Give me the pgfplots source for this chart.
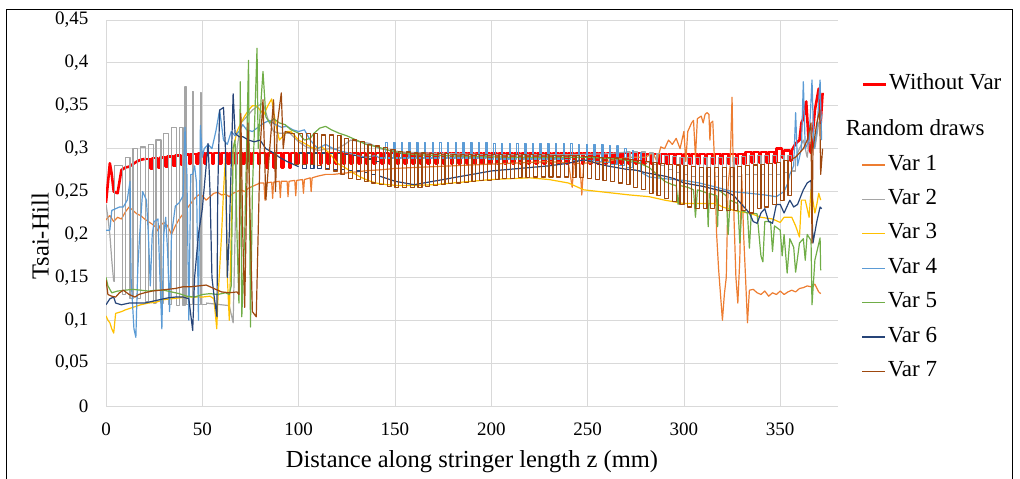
\documentclass[border=0pt]{standalone}
\usepackage{pgfplots}
\pgfplotsset{compat=1.18}
\usepackage{fontspec}
\setmainfont{Liberation Serif}
\definecolor{cRed}{HTML}{FF0000}
\definecolor{cOrange}{HTML}{ED7D31}
\definecolor{cGray}{HTML}{A5A5A5}
\definecolor{cGold}{HTML}{FFC000}
\definecolor{cBlue}{HTML}{5B9BD5}
\definecolor{cGreen}{HTML}{70AD47}
\definecolor{cNavy}{HTML}{264478}
\definecolor{cBrown}{HTML}{9E480E}
\definecolor{gridc}{HTML}{D9D9D9}
\pgfplotsset{
  v/.style={line width=1.2pt, mark=none, line join=round},
  frame/.style={at={(106pt,73pt)}, anchor=south west,
    scale only axis, width=732pt, height=386pt,
    xmin=0, xmax=380, ymin=0, ymax=0.45},
  leg/.style={legend style={anchor=north west, draw=none, fill=none, inner sep=0pt,
    font=\fontsize{23}{23}\selectfont, row sep=10.4pt,
    nodes={inner sep=2pt, text height=15pt, text depth=5pt}},
    legend cell align=left,
    legend image code/.code={\draw[##1] (0pt,0pt) -- (23pt,0pt);}},
}
\begin{document}
\begin{tikzpicture}
\useasboundingbox (0pt,0pt) rectangle (1020pt,479pt);
\draw[line width=1pt] (6.7pt,-5pt) -- (6.7pt,469pt) -- (1012.5pt,469pt) -- (1012.5pt,-5pt);
% ============ axis 1: frame, grid, labels, Without Var ============
\begin{axis}[frame, leg,
  xtick={0,50,100,150,200,250,300,350},
  ytick={0,0.05,0.1,0.15,0.2,0.25,0.3,0.35,0.4,0.45},
  axis lines*=left,
  axis line style={draw=gridc, line width=0.8pt},
  grid=major, major grid style={draw=gridc, line width=0.8pt},
  tick style={draw=none},
  /pgf/number format/assume math mode=true,
  /pgf/number format/use comma,
  y tick label style={/pgf/number format/fixed, /pgf/number format/precision=2, xshift=-14pt},
  x tick label style={yshift=-13pt},
  ticklabel style={font=\fontsize{19}{19}\selectfont},
  xlabel={Distance along stringer length z (mm)},
  ylabel={Tsai-Hill},
  xlabel style={font=\fontsize{24.5}{24.5}\selectfont, at={(axis description cs:0.5,-0.145)}, anchor=center},
  ylabel style={font=\fontsize{24.5}{24.5}\selectfont, at={(axis description cs:-0.09,0.44)}, anchor=center},
  legend style={at={(axis description cs:1.032,0.865)}},
]
\addplot[v, cRed, line width=2.6pt] coordinates {(0,.237)(2,.283)(3,.27)(4,.25)(6,.248)(8,.275)(10,.278)(12,.279)(14,.282)(16,.285)(18,.287)(20,.288)};
\addlegendentry{Without Var}
\addplot[v, cRed, line width=2.6pt, const plot, forget plot] coordinates {
(20,.288)(23,.277)(24,.289)(27,.278)(28,.29)(31,.279)(32,.291)(35,.28)(36,.292)(39,.281)(40,.293)(43,.282)(44,.294)(47,.283)
(48,.295)(51,.283)(52,.295)(55,.283)(56,.295)(59,.283)(60,.295)(63,.283)(64,.295)(67,.283)(68,.295)(71,.283)(72,.295)(75,.283)(76,.295)(79,.283)(80,.295)(83,.278)(84,.295)(87,.278)(88,.295)(91,.278)(92,.295)(95,.278)(96,.295)(99,.283)
(100,.295)(103,.283)(104,.295)(107,.283)(108,.295)(111,.283)(112,.295)(115,.283)(116,.295)(119,.283)(120,.295)(123,.283)(124,.295)(127,.283)(128,.295)(131,.283)(132,.295)(135,.283)(136,.295)(139,.283)(140,.295)(143,.283)(144,.295)(147,.283)(148,.295)(151,.283)(152,.295)(155,.283)(156,.295)(159,.283)(160,.295)(163,.283)(164,.295)(167,.283)(168,.295)(171,.283)(172,.295)(175,.283)(176,.295)(179,.283)(180,.295)(183,.283)(184,.295)(187,.283)(188,.295)(191,.283)(192,.295)(195,.283)(196,.295)(199,.283)
(200,.295)(203,.283)(204,.295)(207,.283)(208,.295)(211,.283)(212,.295)(215,.283)(216,.295)(219,.283)(220,.295)(223,.283)(224,.295)(227,.283)(228,.295)(231,.283)(232,.295)(235,.283)(236,.295)(239,.283)(240,.295)(243,.283)(244,.295)(247,.283)(248,.295)(251,.283)(252,.295)(255,.283)(256,.295)(259,.283)(260,.295)(263,.283)(264,.295)(267,.283)(268,.295)(271,.283)(272,.295)(275,.283)(276,.295)(279,.283)
(280,.294)(283,.282)(284,.294)(287,.282)(288,.294)(291,.282)(292,.294)(295,.282)(296,.294)(299,.282)(300,.294)(303,.282)(304,.294)(307,.282)(308,.294)(311,.282)(312,.294)(315,.282)(316,.294)(319,.282)(320,.294)(323,.282)(324,.294)(327,.282)(328,.294)(331,.282)(332,.296)(335,.284)(336,.296)(339,.284)(340,.296)(343,.284)(344,.296)(347,.284)(348,.3)(351,.29)(352,.298)(355,.286)(356,.298)};
\addplot[v, cRed, line width=2.6pt, forget plot] coordinates {(356,.298)(358,.306)(360,.31)(361,.33)(362,.335)(363.5,.355)(365,.3)(366,.295)(368,.345)(370,.37)(371,.33)(372,.365)};
\end{axis}
% ============ axis 2: random draws, on top ============
\begin{axis}[frame, leg, hide axis,
  legend style={at={(axis description cs:1.032,0.745)}},
]
\addlegendimage{empty legend}
\addlegendentry{\hspace*{-42pt}Random draws}
% ---------------- Var 1 ----------------
\addplot[v, cOrange] coordinates {
(0,.217)(2,.222)(4,.215)(6,.22)(8,.218)(10,.226)(12,.232)(14,.228)(16,.224)(18,.222)(20,.218)(22,.215)(24,.212)(26,.208)(27,.204)(28,.21)(30,.214)(32,.21)(34,.2)(36,.21)(38,.218)(40,.224)(42,.23)(44,.236)(46,.242)(48,.246)(50,.245)(52,.24)(54,.244)
(56,.248)(58,.249)(60,.246)(62,.247)(64,.244)(66,.248)(68,.25)(70,.252)(72,.25)(74,.254)(76,.256)(78,.258)
(80,.26)(82,.26)(82.5,.24)(83,.26)(86,.261)(86.5,.242)(87,.261)(90,.262)(90.5,.243)(91,.262)(94,.262)(94.5,.244)(95,.262)(98,.263)(98.5,.245)(99,.263)(102,.264)(102.5,.248)(103,.264)(106,.266)(106.5,.25)(107,.266)(110,.268)
(114,.27)(118,.27)(122,.271)(126,.272)(130,.273)(134,.274)(140,.275)(146,.276)(150,.277)(160,.278)(170,.279)(180,.28)(190,.281)(200,.282)(210,.283)(220,.284)(230,.285)(236,.284)(240,.283)(241,.27)(242,.255)(243,.283)(246,.283)(247,.246)(248,.283)(254,.284)(260,.285)(266,.288)(272,.29)(276,.29)(280,.29)
(284,.295)(286,.285)(288,.302)(290,.3)(292,.31)(294,.305)(296,.312)(298,.3)(300,.32)(301,.285)(302,.32)(304,.33)(305,.333)(306,.29)(307,.335)(309,.338)(310,.33)(311,.34)(312,.342)(313,.34)(313.5,.31)(314,.33)(315,.332)(316,.28)(317,.2)(318,.16)(320,.1)(321,.13)(322,.15)(323,.26)(324,.28)(325,.36)(326,.22)(327,.15)(328,.12)(329,.17)(330,.27)(331,.2)(332,.15)(333,.097)(334,.135)
(336,.136)(338,.132)(340,.13)(342,.134)(344,.128)(346,.132)(348,.13)(350,.134)(352,.13)(354,.133)(356,.135)(358,.133)(360,.137)(362,.138)(364,.14)(366,.139)(368,.142)(370,.133)(371,.131)};
\addlegendentry{Var 1}
% ---------------- Var 2 ----------------
\addplot[v, cGray] coordinates {(0,.235)(1,.22)(2,.2)(3,.17)(4,.145)};
\addlegendentry{Var 2}
\addplot[v, cGray, const plot, forget plot] coordinates {
(4,.145)(4.5,.28)(8.5,.13)(10,.29)(12.5,.125)(14,.3)(16.5,.125)(18,.302)(20.5,.122)(22,.305)(24.5,.12)(26,.31)(28.5,.12)(30,.318)(32.5,.118)(34,.325)(36.5,.117)(38,.325)(40,.117)(41,.372)(41.6,.118)(45,.367)(45.6,.118)(49,.365)(49.6,.118)(52,.12)};
\addplot[v, cGray, forget plot] coordinates {
(52,.12)(56,.119)(60,.118)(64,.117)(66,.097)(67,.2)(68,.3)(70,.33)(73,.337)(76,.345)(79,.35)(81.5,.353)(84,.335)(87,.32)(90,.318)(95.5,.318)(100,.308)(104,.302)(110,.298)(116,.3)(120,.3)(124,.305)(127,.31)(132,.308)(137,.306)(142,.3)(147,.298)(155,.296)(165,.295)(180,.294)(200,.293)(220,.293)(240,.293)(260,.294)(270,.296)};
\addplot[v, cGray, const plot, forget plot] coordinates {
(270,.296)(272,.284)(274,.296)(276,.284)(278,.296)(280,.284)(282,.295)(284,.282)(286,.294)(288,.28)(290,.292)(292,.276)(294,.291)(296,.272)(298,.29)(300,.27)(302,.29)(304,.268)(306,.29)(308,.268)(310,.29)(312,.268)(314,.29)(316,.268)(318,.29)(320,.268)(322,.29)(324,.268)(326,.29)(328,.268)(330,.291)(332,.27)(334,.292)(336,.27)(338,.292)(340,.27)(342,.292)(344,.27)(346,.292)(348,.27)(350,.292)(352,.272)(354,.292)(356,.274)(358,.29)};
\addplot[v, cGray, forget plot] coordinates {(358,.29)(360,.3)(362,.31)(364,.29)(366,.325)(368,.3)(370,.33)(372,.34)};
% ---------------- Var 3 ----------------
\addplot[v, cGold] coordinates {
(0,.105)(1,.1)(2,.097)(3,.09)(4,.085)(5,.108)(8,.11)(10,.112)(14,.115)(18,.118)(22,.12)(26,.121)(30,.124)(34,.125)(38,.126)(42,.127)(46,.127)(50,.127)(54,.128)(56,.125)(57.5,.09)(58,.12)(60,.2)(61,.25)(62,.29)(63,.15)(64,.1)(65,.2)(66,.3)(68,.32)(70,.33)(72,.338)(74,.345)(76,.35)(78,.35)(80,.345)(82,.34)(84,.35)(86,.358)(88,.33)(90,.31)(92,.315)(94,.32)(96,.32)(98,.315)(100,.31)(104,.305)(108,.3)(112,.302)(116,.295)(120,.283)(124,.278)(128,.272)(132,.267)(136,.263)(140,.26)(146,.258)(152,.257)(160,.257)(170,.258)(180,.26)(190,.262)(200,.264)(210,.265)(220,.266)(230,.264)(240,.26)(248,.252)(256,.25)(264,.248)(272,.246)(282,.244)(290,.24)(300,.236)(310,.236)(317,.236)(320,.232)(326,.228)(330,.226)(334,.225)(340,.22)(346,.218)(350,.214)(352,.22)(356,.22)(358,.21)(360,.197)(361,.24)(363,.24)(365,.22)(366,.252)(368,.225)(369,.235)(370,.248)(371,.24)};
\addlegendentry{Var 3}
% ---------------- Var 4 ----------------
\addplot[v, cBlue] coordinates {
(0,.205)(2,.205)(3,.228)(5,.23)(7,.232)(9,.232)(11,.24)(12.5,.262)(13,.15)(14.5,.09)(15.5,.08)(16.5,.16)(17.5,.2)(19,.25)(21,.24)(22,.2)(23,.14)(24,.2)(25,.215)(27,.218)(28,.15)(29,.09)(30,.2)(31,.22)(32,.18)(33,.11)(34,.2)(36,.233)(38,.237)(40,.245)(41,.325)(42,.27)(43,.1)(44,.27)(45,.27)(46,.28)(47,.26)(48,.1)(49,.327)(50,.29)(51,.3)(53,.305)(55,.3)(57,.32)(59,.345)(61,.31)(63,.305)(65,.32)(67,.315)(69,.32)(71,.328)(73,.322)(76,.32)(79,.325)(82,.33)(85,.333)(88,.328)(91,.325)(94,.326)(97,.322)(100,.32)(103,.322)(106,.31)(110,.3)(114,.305)(118,.3)(122,.297)(126,.295)(130,.292)(135,.29)(140,.292)(142,.289)};
\addlegendentry{Var 4}
\addplot[v, cBlue, const plot, forget plot] coordinates {
(142,.289)(145.3,.307)(146,.289)(149.3,.307)(150,.289)(153.3,.307)(154,.289)(157.3,.307)(158,.289)(161.3,.307)(162,.289)(165.3,.307)(166,.289)(169.3,.307)(170,.289)(173.3,.307)(174,.289)(177.3,.307)(178,.289)(181.3,.307)(182,.289)(185.3,.307)(186,.289)(189.3,.307)(190,.289)(193.3,.307)(194,.289)(197.3,.307)(198,.288)(201.3,.306)(202,.288)(205.3,.306)(206,.288)(209.3,.306)(210,.288)(213.3,.306)(214,.288)(217.3,.306)(218,.288)(221.3,.306)(222,.288)(225.3,.306)(226,.288)(229.3,.306)(230,.288)(233.3,.306)(234,.288)(237.3,.306)(238,.287)(241.3,.306)(242,.286)(245.3,.305)(246,.286)(249.3,.305)(250,.286)(253.3,.305)(254,.285)(257.3,.305)(258,.284)(261.3,.304)(262,.282)(265.3,.303)(266,.28)(269.3,.3)(270,.278)(273.3,.298)(274,.275)(277.3,.295)(278,.272)};
\addplot[v, cBlue, forget plot] coordinates {
(278,.272)(282,.267)(290,.265)(300,.263)(308,.26)(317,.255)(325,.25)(334,.248)(342,.246)(348,.244)(352,.25)(354,.26)(355,.27)(357,.28)(358,.342)(359,.28)(361,.3)(362,.378)(363,.3)(365,.31)(366.5,.38)(367.5,.3)(369,.32)(370.7,.38)(371.5,.31)};
% ---------------- Var 5 ----------------
\addplot[v, cGreen] coordinates {
(0,.15)(1,.14)(3,.132)(6,.134)(10,.135)(14,.136)(18,.135)(22,.134)(26,.135)(30,.135)(34,.133)(38,.131)(42,.128)(46,.127)(50,.13)(54,.131)(58,.13)(62,.132)(64,.13)(65,.14)(66,.3)(67,.31)(68,.2)(69,.12)(69.7,.378)(70.5,.104)(72,.2)(73,.3)(74,.403)(75,.092)(76,.25)(78.4,.417)(79,.3)(80,.34)(81.5,.39)(83,.337)(85,.33)(87,.335)(90,.33)(93,.328)(96,.322)(100,.318)(103,.31)(106,.312)(108,.318)(111,.324)(114,.326)(117,.322)(121,.318)(125,.315)(130,.31)(135,.305)(141,.302)(147,.298)(153,.295)(160,.293)(173,.292)(190,.291)(210,.29)(230,.29)(250,.29)(265,.288)(275,.285)(282,.278)
(286,.27)(290,.262)(294,.258)(296,.257)(297,.235)(298,.257)(302,.255)(305,.252)(306,.22)(307,.252)(310,.25)(312,.248)(312.6,.209)(313.2,.248)(317,.245)(317.5,.209)(318,.252)(322,.245)(323,.2)(324,.24)(328,.236)(329,.19)(330,.228)(333,.225)(334,.184)(335,.225)(338,.224)(340,.175)(341,.168)(342,.215)(345,.215)(346,.18)(347,.21)(350,.205)(351,.175)(352,.2)(353.6,.155)(355,.195)(357,.185)(358,.156)(360,.19)(362,.195)(363,.17)(364,.2)(366,.193)(366.5,.118)(368,.17)(370.7,.196)(371,.158)};
\addlegendentry{Var 5}
% ---------------- Var 6 ----------------
\addplot[v, cNavy] coordinates {
(0,.118)(2,.125)(4,.127)(5,.12)(8,.118)(12,.12)(16,.12)(20,.12)(24,.122)(28,.124)(32,.126)(36,.127)(40,.127)(43,.125)(45,.088)(46,.15)(48,.2)(50,.23)(52,.28)(53,.306)(54,.25)(55,.15)(56,.13)(57.6,.104)(58,.25)(59,.345)(61,.348)(62,.3)(63,.15)(64,.2)(66,.364)(67,.318)(69,.314)(71,.314)(74,.31)(77,.308)(80,.31)(83,.3)(87,.295)(90,.29)(94,.285)(97,.282)(100,.279)};
\addlegendentry{Var 6}
\addplot[v, cNavy, const plot, forget plot] coordinates {
(100,.295)(102,.277)(104,.295)(106,.277)(108,.295)(110,.277)(112,.295)(114,.277)(116,.294)(118,.276)(120,.294)(122,.276)(124,.293)(126,.275)(128,.292)(130,.274)(132,.29)(134,.272)(136,.288)(138,.27)(140,.285)(142,.268)};
\addplot[v, cNavy, forget plot] coordinates {
(142,.268)(150,.262)(160,.258)(170,.262)(180,.266)(190,.27)(200,.274)(210,.276)(220,.278)(230,.28)(240,.283)(248,.287)(252,.285)(256,.282)(260,.28)(265,.278)(270,.276)(275,.275)(280,.272)(285,.27)(290,.268)(295,.265)(300,.26)(305,.258)(310,.256)(317,.252)(322,.25)(326,.245)(330,.235)(334,.225)(336,.215)(338,.213)(340,.225)(342,.23)(344,.215)(346,.213)(348,.235)(350,.235)(352,.225)(355,.24)(357,.232)(359,.235)(362,.252)(364,.26)(366,.263)(367,.19)(369,.215)(370.7,.232)(371.5,.23)};
% ---------------- Var 7 ----------------
\addplot[v, cBrown] coordinates {
(0,.147)(1,.13)(3,.128)(5,.127)(7,.132)(9,.135)(12,.13)(15,.127)(17,.13)(20,.132)(24,.134)(28,.135)(32,.136)(36,.137)(40,.139)(44,.139)(48,.14)(52,.141)(56,.137)(60,.133)(64,.132)(68,.133)(69,.13)(70,.341)(71,.2)(72,.115)(73.7,.33)(75,.2)(76,.11)(78,.104)(80,.3)(81.5,.357)(83,.24)(85,.3)(87,.357)(88,.25)(89,.33)(91,.365)(92,.3)(93,.32)(96,.318)};
\addlegendentry{Var 7}
\addplot[v, cBrown, const plot, forget plot] coordinates {
(96,.318)(98,.282)(100,.318)(102,.282)(104,.318)(106,.282)(108,.318)(110,.28)(112,.316)(114,.276)(116,.316)(118,.274)(120,.315)(122,.27)(124,.312)(126,.265)(128,.31)(130,.264)(132,.308)(134,.262)(136,.305)(138,.26)(140,.303)(142,.258)(144,.301)(146,.256)(148,.299)(150,.255)(152,.297)(154,.255)(156,.296)(158,.255)(160,.295)(162,.255)(164,.295)(166,.256)(168,.294)(170,.257)(172,.294)(174,.258)(176,.294)(178,.259)(180,.293)(182,.26)(184,.293)(186,.261)(188,.293)(190,.262)(192,.293)(194,.263)(196,.293)(198,.263)
(200,.293)(202,.264)(204,.293)(206,.265)(208,.293)(210,.265)(212,.293)(214,.266)(216,.293)(218,.266)(220,.293)(222,.267)(224,.293)(226,.267)(228,.293)(230,.267)(232,.292)(234,.267)(236,.292)(238,.267)(240,.292)(242,.266)(244,.292)(246,.266)(248,.291)(250,.265)(252,.291)(254,.264)(256,.29)(258,.263)(260,.29)(262,.262)(264,.289)(266,.26)(268,.288)(270,.258)(272,.287)(274,.255)(276,.286)(278,.252)(280,.285)(282,.248)(284,.284)(286,.245)(288,.283)(290,.242)(292,.282)(294,.238)(296,.281)(298,.235)
(300,.28)(302,.232)(304,.279)(306,.23)(308,.278)(310,.23)(312,.278)(314,.23)(316,.278)(318,.228)(320,.278)(322,.228)(324,.278)(326,.228)(328,.279)(330,.228)(332,.28)(334,.225)(336,.281)(338,.23)(340,.282)(342,.232)(344,.283)(346,.235)(348,.284)(350,.24)(352,.286)(354,.245)(356,.288)};
\addplot[v, cBrown, forget plot] coordinates {(356,.288)(358,.29)(360,.295)(362,.3)(364,.31)(366,.33)(366.5,.19)(367,.3)(369,.33)(370.5,.345)(371,.27)(372,.3)};
\end{axis}
\end{tikzpicture}
\end{document}
